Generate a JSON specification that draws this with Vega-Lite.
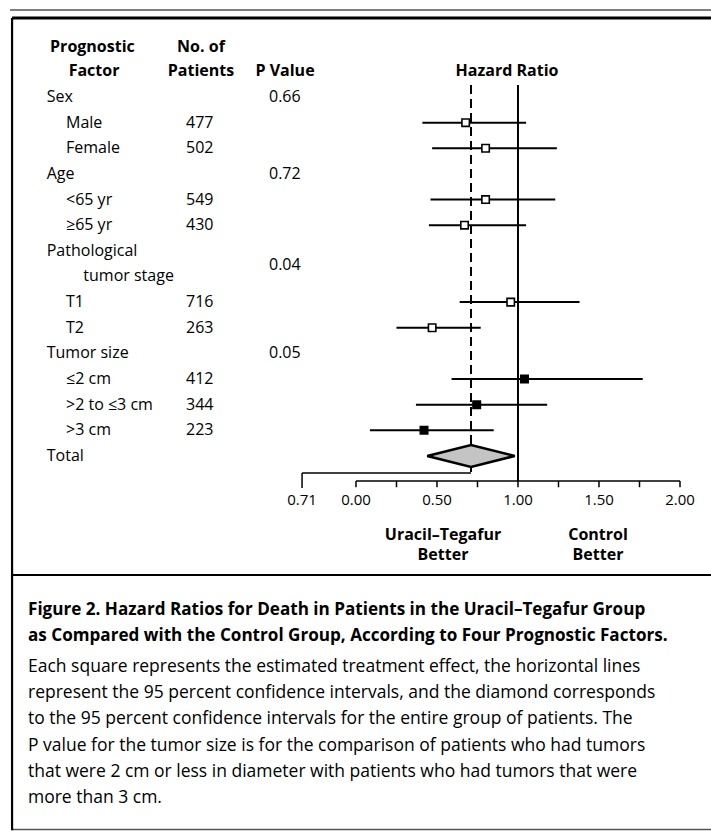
{
  "$schema": "https://vega.github.io/schema/vega-lite/v6.json",
  "width": 711,
  "height": 832,
  "autosize": {"type": "none"},
  "padding": 0,
  "background": "white",
  "config": {"view": {"stroke": null}, "font": "Open Sans"},
  "datasets": {
    "rows": [
      {"row": 0, "label": "Sex", "level": 0},
      {"row": 1, "label": "Male", "level": 1, "n": "477", "hr": 0.677, "lo": 0.41, "hi": 1.05, "factor": "Sex"},
      {"row": 2, "label": "Female", "level": 1, "n": "502", "hr": 0.80, "lo": 0.47, "hi": 1.24, "factor": "Sex"},
      {"row": 3, "label": "Age", "level": 0},
      {"row": 4, "label": "<65 yr", "level": 1, "n": "549", "hr": 0.80, "lo": 0.46, "hi": 1.23, "factor": "Age"},
      {"row": 5, "label": "≥65 yr", "level": 1, "n": "430", "hr": 0.67, "lo": 0.45, "hi": 1.05, "factor": "Age"},
      {"row": 6, "label": "Pathological", "level": 0},
      {"row": 7, "label": "tumor stage", "level": 2},
      {"row": 8, "label": "T1", "level": 1, "n": "716", "hr": 0.955, "lo": 0.64, "hi": 1.38, "factor": "Stage"},
      {"row": 9, "label": "T2", "level": 1, "n": "263", "hr": 0.47, "lo": 0.25, "hi": 0.77, "factor": "Stage"},
      {"row": 10, "label": "Tumor size", "level": 0},
      {"row": 11, "label": "≤2 cm", "level": 1, "n": "412", "hr": 1.04, "lo": 0.59, "hi": 1.77, "factor": "Size"},
      {"row": 12, "label": ">2 to ≤3 cm", "level": 1, "n": "344", "hr": 0.745, "lo": 0.37, "hi": 1.18, "factor": "Size"},
      {"row": 13, "label": ">3 cm", "level": 1, "n": "223", "hr": 0.42, "lo": 0.086, "hi": 0.85, "factor": "Size"},
      {"row": 14, "label": "Total", "level": 0}
    ],
    "pvalues": [
      {"row": 0, "p": "0.66"},
      {"row": 3, "p": "0.72"},
      {"row": 6.55, "p": "0.04"},
      {"row": 10, "p": "0.05"}
    ],
    "total": [
      {"hr": 0.44, "top": 14, "bot": 14},
      {"hr": 0.71, "top": 13.57, "bot": 14.43},
      {"hr": 0.98, "top": 14, "bot": 14}
    ],
    "header": [
      {"x": -1.627, "row": -1.95, "text": "Prognostic"},
      {"x": -1.617, "row": -1.0, "text": "Factor"},
      {"x": -0.957, "row": -1.95, "text": "No. of"},
      {"x": -0.957, "row": -1.0, "text": "Patients"},
      {"x": -0.438, "row": -1.0, "text": "P Value"},
      {"x": 0.932, "row": -1.0, "text": "Hazard Ratio"},
      {"x": 0.537, "row": 17.08, "text": "Uracil–Tegafur"},
      {"x": 0.537, "row": 17.86, "text": "Better"},
      {"x": 1.494, "row": 17.08, "text": "Control"},
      {"x": 1.494, "row": 17.86, "text": "Better"}
    ],
    "ticks": [
      {"v": 0, "label": "0.00"},
      {"v": 0.25, "label": ""},
      {"v": 0.5, "label": "0.50"},
      {"v": 0.75, "label": ""},
      {"v": 1, "label": "1.00"},
      {"v": 1.25, "label": ""},
      {"v": 1.5, "label": "1.50"},
      {"v": 1.75, "label": ""},
      {"v": 2, "label": "2.00"}
    ],
    "breakLabel": [{"v": -0.333, "label": "0.71"}],
    "bracket": [
      {"x": -0.333, "x2": 0.71, "y": 14.66, "y2": 14.66},
      {"x": -0.333, "x2": -0.333, "y": 14.66, "y2": 15.25},
      {"x": 0, "x2": 2, "y": 14.98, "y2": 14.98}
    ],
    "refSolid": [{"hr": 1.0, "from": -0.47, "to": 14.98}],
    "refDashed": [{"hr": 0.71, "from": -0.47, "to": 14.66}],
    "frameThin": [
      {"x": -2.136, "x2": 2.1914, "y": -3.393, "y2": -3.393},
      {"x": -2.123, "x2": 2.1914, "y": 28.57, "y2": 28.57}
    ],
    "frameThick": [
      {"x": -2.123, "x2": 2.1914, "y": -3.081, "y2": -3.081}
    ],
    "frameMed": [
      {"x": -2.123, "x2": -2.123, "y": -3.081, "y2": 28.6},
      {"x": -2.123, "x2": 2.1914, "y": 18.643, "y2": 18.643}
    ],
    "captionTitle": [
      {"row": 20.008, "text": "Figure 2. Hazard Ratios for Death in Patients in the Uracil–Tegafur Group"},
      {"row": 21.022, "text": "as Compared with the Control Group, According to Four Prognostic Factors."}
    ],
    "captionBody": [
      {"row": 22.231, "text": "Each square represents the estimated treatment effect, the horizontal lines"},
      {"row": 23.245, "text": "represent the 95 percent confidence intervals, and the diamond corresponds"},
      {"row": 24.259, "text": "to the 95 percent confidence intervals for the entire group of patients. The"},
      {"row": 25.312, "text": "P value for the tumor size is for the comparison of patients who had tumors"},
      {"row": 26.326, "text": "that were 2 cm or less in diameter with patients who had tumors that were"},
      {"row": 27.34, "text": "more than 3 cm."}
    ]
  },
  "layer": [
    {
      "data": {"name": "frameThin"},
      "mark": {"type": "rule", "color": "#555555", "strokeWidth": 1.5},
      "encoding": {
        "x": {"field": "x", "type": "quantitative", "scale": {"domain": [-2.1975, 2.1914], "nice": false, "zero": false}, "axis": null},
        "x2": {"field": "x2"},
        "y": {"field": "y", "type": "quantitative", "scale": {"domain": [-3.783, 28.666], "nice": false, "zero": false, "reverse": true}, "axis": null},
        "y2": {"field": "y2"}
      }
    },
    {
      "data": {"name": "frameThick"},
      "mark": {"type": "rule", "color": "black", "strokeWidth": 3},
      "encoding": {
        "x": {"field": "x", "type": "quantitative"},
        "x2": {"field": "x2"},
        "y": {"field": "y", "type": "quantitative"},
        "y2": {"field": "y2"}
      }
    },
    {
      "data": {"name": "frameMed"},
      "mark": {"type": "rule", "color": "black", "strokeWidth": 2.2},
      "encoding": {
        "x": {"field": "x", "type": "quantitative"},
        "x2": {"field": "x2"},
        "y": {"field": "y", "type": "quantitative"},
        "y2": {"field": "y2"}
      }
    },
    {
      "data": {"name": "refDashed"},
      "mark": {"type": "rule", "color": "black", "strokeWidth": 2, "strokeDash": [9, 5]},
      "encoding": {
        "x": {"field": "hr", "type": "quantitative"},
        "y": {"field": "from", "type": "quantitative"},
        "y2": {"field": "to"}
      }
    },
    {
      "data": {"name": "refSolid"},
      "mark": {"type": "rule", "color": "black", "strokeWidth": 2},
      "encoding": {
        "x": {"field": "hr", "type": "quantitative"},
        "y": {"field": "from", "type": "quantitative"},
        "y2": {"field": "to"}
      }
    },
    {
      "data": {"name": "rows"},
      "transform": [{"filter": "isValid(datum.hr)"}],
      "mark": {"type": "rule", "color": "black", "strokeWidth": 2},
      "encoding": {
        "x": {"field": "lo", "type": "quantitative"},
        "x2": {"field": "hi"},
        "y": {"field": "row", "type": "quantitative"}
      }
    },
    {
      "data": {"name": "total"},
      "mark": {"type": "area", "fill": "#c4c4c4", "stroke": "black", "strokeWidth": 2.5, "fillOpacity": 1},
      "encoding": {
        "x": {"field": "hr", "type": "quantitative"},
        "y": {"field": "top", "type": "quantitative"},
        "y2": {"field": "bot"}
      }
    },
    {
      "data": {"name": "rows"},
      "transform": [{"filter": "isValid(datum.hr)"}],
      "mark": {"type": "point", "shape": "square", "filled": true, "size": 55, "stroke": "black", "strokeWidth": 1.6, "opacity": 1},
      "encoding": {
        "x": {"field": "hr", "type": "quantitative"},
        "y": {"field": "row", "type": "quantitative"},
        "fill": {"field": "factor", "type": "nominal", "scale": {"domain": ["Sex", "Age", "Stage", "Size"], "range": ["white", "white", "white", "black"]}, "legend": null}
      }
    },
    {
      "data": {"name": "bracket"},
      "mark": {"type": "rule", "color": "black", "strokeWidth": 1.5},
      "encoding": {
        "x": {"field": "x", "type": "quantitative"},
        "x2": {"field": "x2"},
        "y": {"field": "y", "type": "quantitative"},
        "y2": {"field": "y2"}
      }
    },
    {
      "data": {"name": "ticks"},
      "mark": {"type": "rule", "color": "black", "strokeWidth": 1.5},
      "encoding": {
        "x": {"field": "v", "type": "quantitative"},
        "y": {"datum": 14.98, "type": "quantitative"},
        "y2": {"datum": 15.22}
      }
    },
    {
      "data": {"name": "ticks"},
      "mark": {"type": "text", "font": "Open Sans", "fontSize": 15, "align": "center", "baseline": "middle", "color": "black"},
      "encoding": {
        "x": {"field": "v", "type": "quantitative"},
        "y": {"datum": 15.72, "type": "quantitative"},
        "text": {"field": "label"}
      }
    },
    {
      "data": {"name": "breakLabel"},
      "mark": {"type": "text", "font": "Open Sans", "fontSize": 15, "align": "center", "baseline": "middle", "color": "black"},
      "encoding": {
        "x": {"field": "v", "type": "quantitative"},
        "y": {"datum": 15.72, "type": "quantitative"},
        "text": {"field": "label"}
      }
    },
    {
      "data": {"name": "header"},
      "mark": {"type": "text", "font": "Open Sans", "fontSize": 16, "fontWeight": "bold", "align": "center", "baseline": "middle", "color": "black"},
      "encoding": {
        "x": {"field": "x", "type": "quantitative"},
        "y": {"field": "row", "type": "quantitative"},
        "text": {"field": "text"}
      }
    },
    {
      "data": {"name": "rows"},
      "transform": [{"filter": "datum.level === 0"}],
      "mark": {"type": "text", "font": "Open Sans", "fontSize": 16, "align": "left", "baseline": "middle", "color": "black"},
      "encoding": {
        "x": {"datum": -1.909, "type": "quantitative"},
        "y": {"field": "row", "type": "quantitative"},
        "text": {"field": "label"}
      }
    },
    {
      "data": {"name": "rows"},
      "transform": [{"filter": "datum.level === 1"}],
      "mark": {"type": "text", "font": "Open Sans", "fontSize": 16, "align": "left", "baseline": "middle", "color": "black"},
      "encoding": {
        "x": {"datum": -1.79, "type": "quantitative"},
        "y": {"field": "row", "type": "quantitative"},
        "text": {"field": "label"}
      }
    },
    {
      "data": {"name": "rows"},
      "transform": [{"filter": "datum.level === 2"}],
      "mark": {"type": "text", "font": "Open Sans", "fontSize": 16, "align": "left", "baseline": "middle", "color": "black"},
      "encoding": {
        "x": {"datum": -1.683, "type": "quantitative"},
        "y": {"field": "row", "type": "quantitative"},
        "text": {"field": "label"}
      }
    },
    {
      "data": {"name": "rows"},
      "transform": [{"filter": "isValid(datum.n)"}],
      "mark": {"type": "text", "font": "Open Sans", "fontSize": 16, "align": "left", "baseline": "middle", "color": "black"},
      "encoding": {
        "x": {"datum": -1.049, "type": "quantitative"},
        "y": {"field": "row", "type": "quantitative"},
        "text": {"field": "n"}
      }
    },
    {
      "data": {"name": "pvalues"},
      "mark": {"type": "text", "font": "Open Sans", "fontSize": 16, "align": "left", "baseline": "middle", "color": "black"},
      "encoding": {
        "x": {"datum": -0.537, "type": "quantitative"},
        "y": {"field": "row", "type": "quantitative"},
        "text": {"field": "p"}
      }
    },
    {
      "data": {"name": "captionTitle"},
      "mark": {"type": "text", "font": "Open Sans", "fontSize": 17.1, "fontWeight": "bold", "align": "left", "baseline": "middle", "color": "black"},
      "encoding": {
        "x": {"datum": -2.0247, "type": "quantitative"},
        "y": {"field": "row", "type": "quantitative"},
        "text": {"field": "text"}
      }
    },
    {
      "data": {"name": "captionBody"},
      "mark": {"type": "text", "font": "Open Sans", "fontSize": 17.5, "align": "left", "baseline": "middle", "color": "black"},
      "encoding": {
        "x": {"datum": -2.0247, "type": "quantitative"},
        "y": {"field": "row", "type": "quantitative"},
        "text": {"field": "text"}
      }
    }
  ]
}
